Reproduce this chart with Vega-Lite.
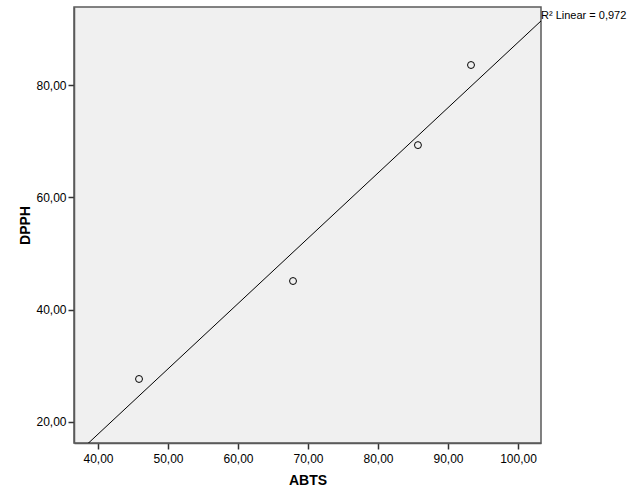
{
  "$schema": "https://vega.github.io/schema/vega-lite/v6.json",
  "width": 467,
  "height": 436,
  "autosize": "none",
  "padding": {"left": 74, "top": 7, "right": 88, "bottom": 61},
  "background": "white",
  "config": {
    "locale": {"number": {"decimal": ",", "thousands": ".", "grouping": [3], "currency": ["", ""]}},
    "font": "Liberation Sans",
    "view": {"fill": "#f0f0f0", "stroke": "#5a5a5a", "strokeWidth": 1.5},
    "axis": {
      "grid": false,
      "domainColor": "#5a5a5a",
      "domainWidth": 1.5,
      "tickColor": "#333333",
      "tickWidth": 1.5,
      "tickSize": 6,
      "labelFont": "Liberation Sans",
      "labelFontSize": 12,
      "labelColor": "#000000",
      "titleFont": "Liberation Sans",
      "titleFontSize": 14,
      "titleFontWeight": "bold",
      "titleColor": "#000000"
    }
  },
  "data": {
    "values": [
      {"ABTS": 45.86, "DPPH": 27.66},
      {"ABTS": 67.86, "DPPH": 45.1},
      {"ABTS": 85.71, "DPPH": 69.3},
      {"ABTS": 93.29, "DPPH": 83.56}
    ]
  },
  "layer": [
    {
      "transform": [{"regression": "DPPH", "on": "ABTS", "extent": [36.57, 103.29]}],
      "mark": {"type": "line", "color": "#000000", "strokeWidth": 1, "clip": true},
      "encoding": {
        "x": {"field": "ABTS", "type": "quantitative"},
        "y": {"field": "DPPH", "type": "quantitative"}
      }
    },
    {
      "mark": {"type": "point", "shape": "circle", "filled": false, "color": "#000000", "strokeWidth": 1, "size": 48, "opacity": 1},
      "encoding": {
        "x": {
          "field": "ABTS", "type": "quantitative",
          "scale": {"domain": [36.57, 103.29], "nice": false, "zero": false},
          "axis": {"values": [40, 50, 60, 70, 80, 90, 100], "format": ".2f", "title": "ABTS", "titlePadding": 9, "labelPadding": 4}
        },
        "y": {
          "field": "DPPH", "type": "quantitative",
          "scale": {"domain": [16.26, 93.89], "nice": false, "zero": false},
          "axis": {"values": [20, 40, 60, 80], "format": ".2f", "title": "DPPH", "titlePadding": 3, "labelPadding": 2}
        }
      }
    },
    {
      "data": {"values": [{"ABTS": 103.29, "DPPH": 92.2, "label": "R² Linear = 0,972"}]},
      "mark": {"type": "text", "align": "left", "baseline": "middle", "dx": 0, "fontSize": 11, "font": "Liberation Sans", "color": "#000000", "clip": false},
      "encoding": {
        "x": {"field": "ABTS", "type": "quantitative"},
        "y": {"field": "DPPH", "type": "quantitative"},
        "text": {"field": "label"}
      }
    }
  ]
}
